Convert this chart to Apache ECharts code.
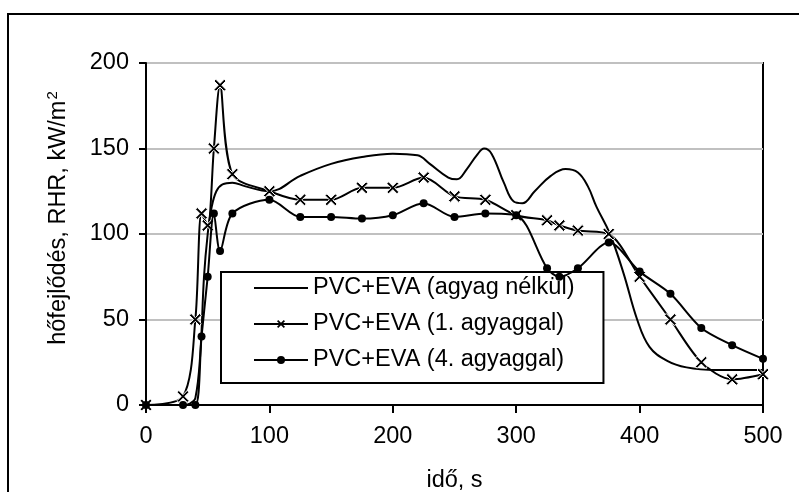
<!DOCTYPE html>
<html><head><meta charset="utf-8">
<script src="https://cdn.jsdelivr.net/npm/echarts@6/dist/echarts.min.js"></script>
<style>html,body{margin:0;padding:0;background:#fff}#c{width:799px;height:492px}</style>
</head><body><div id="c"></div>
<script>
// Series 1: PVC+EVA (agyag nélkül) — smooth line, no markers
var t1   = [0, 30, 36, 40, 44, 47, 50, 53, 57, 62, 70, 80, 100, 125, 150, 175, 200, 220, 230, 245, 252, 260, 268, 274, 280, 290, 298, 305, 315, 328, 340, 350, 358, 365, 376, 387, 398, 408, 422, 438, 462, 500];
var rhr1 = [0, 0, 1, 4, 30, 75, 100, 115, 125, 129, 130, 128, 125, 134, 141, 145, 147, 146, 141, 133, 132, 138, 146, 150, 147, 130, 119, 118, 125, 134, 138, 136, 128, 116, 100, 77, 50, 34, 26, 22, 20.5, 20.5];
// Series 2: PVC+EVA (1. agyaggal) — crosses
var t2   = [0, 30, 40, 45, 50, 55, 60, 70, 100, 125, 150, 175, 200, 225, 250, 275, 300, 325, 335, 350, 375, 400, 425, 450, 475, 500];
var rhr2 = [0, 5, 50, 112, 105, 150, 187, 135, 125, 120, 120, 127, 127, 133, 122, 120, 111, 108, 105, 102, 100, 75, 50, 25, 15, 18];
// Series 3: PVC+EVA (4. agyaggal) — dots
var t3   = [0, 30, 40, 45, 50, 55, 60, 70, 100, 125, 150, 175, 200, 225, 250, 275, 300, 325, 335, 350, 375, 400, 425, 450, 475, 500];
var rhr3 = [0, 0, 0, 40, 75, 112, 90, 112, 120, 110, 110, 109, 111, 118, 110, 112, 111, 80, 75, 80, 95, 78, 65, 45, 35, 27];
var names = ['PVC+EVA (agyag nélkül)', 'PVC+EVA (1. agyaggal)', 'PVC+EVA (4. agyaggal)'];
var xTicks = [0, 100, 200, 300, 400, 500];
var yTicks = [0, 50, 100, 150, 200];

function pairs(xs, ys){ return xs.map(function(x,i){ return [x, ys[i]]; }); }
var FONT = 'Liberation Sans, Arial, sans-serif';
var FS = 23.5;
var crossPath = 'path://M0,1.5L1.5,0L5,3.5L8.5,0L10,1.5L6.5,5L10,8.5L8.5,10L5,6.5L1.5,10L0,8.5L3.5,5Z';

var chart = echarts.init(document.getElementById('c'), null, {renderer:'canvas'});
chart.setOption({
  animation: false,
  backgroundColor: '#fff',
  graphic: [{
    type: 'rect', silent: true, z: -1,
    shape: {x: 8, y: 14, width: 900, height: 600},
    style: {fill: 'none', stroke: '#000', lineWidth: 2}
  }],
  grid: {left: 146, right: 36, top: 63, bottom: 87, containLabel: false, outerBoundsMode: 'none',
    show: true, borderColor: '#000', borderWidth: 2, backgroundColor: 'transparent'},
  legend: {
    orient: 'vertical', left: 221, top: 272,
    backgroundColor: '#fff', borderColor: '#000', borderWidth: 2, borderRadius: 0,
    padding: [3, 29, 10, 32],
    itemWidth: 54, itemHeight: 10, itemGap: 10,
    textStyle: {fontFamily: FONT, fontSize: FS, color: '#000', lineHeight: 26},
    data: [
      {name: names[0], itemStyle: {color: 'rgba(0,0,0,0)', borderWidth: 0, opacity: 0}},
      {name: names[1], itemStyle: {color: '#000', borderWidth: 0}},
      {name: names[2], itemStyle: {color: '#000', borderWidth: 0}}
    ]
  },
  xAxis: {
    type: 'value', min: 0, max: 500, interval: 100,
    name: 'idő, s', nameLocation: 'middle', nameGap: 64,
    nameTextStyle: {fontFamily: FONT, fontSize: FS, color: '#000'},
    axisLine: {show: true, onZero: false, lineStyle: {color: '#000', width: 2}},
    axisTick: {show: true, length: 8, lineStyle: {color: '#000', width: 2}},
    axisLabel: {margin: 20, fontFamily: FONT, fontSize: FS, color: '#000',
      formatter: function(v){ return xTicks.indexOf(v) >= 0 ? String(v) : ''; }},
    splitLine: {show: false}
  },
  yAxis: {
    type: 'value', min: 0, max: 200, interval: 50,
    name: 'hőfejlődés, RHR, kW/m{sup|2}', nameLocation: 'middle', nameGap: 74, nameRotate: 90,
    nameTextStyle: {fontFamily: FONT, fontSize: FS, color: '#000', padding: [0, 0, 0, 32],
      rich: {sup: {fontFamily: FONT, fontSize: 15, color: '#000', verticalAlign: 'top', padding: [0,0,12,1]}}},
    axisLine: {show: true, onZero: false, lineStyle: {color: '#000', width: 2}},
    axisTick: {show: true, length: 7, lineStyle: {color: '#000', width: 2}},
    axisLabel: {margin: 17, fontFamily: FONT, fontSize: FS, color: '#000',
      formatter: function(v){ return yTicks.indexOf(v) >= 0 ? String(v) : ''; }},
    splitLine: {show: true, lineStyle: {color: '#c0c0c0', width: 2}}
  },
  series: [
    {name: names[0], type: 'line', data: pairs(t1, rhr1), smooth: 0.4, symbol: 'none',
     lineStyle: {color: '#000', width: 2}, itemStyle: {color: '#000'}, z: 3},
    {name: names[1], type: 'line', data: pairs(t2, rhr2), smooth: 0.3, symbol: crossPath, symbolSize: 12,
     lineStyle: {color: '#000', width: 2}, itemStyle: {color: '#000', borderColor: '#fff', borderWidth: 1}, z: 4},
    {name: names[2], type: 'line', data: pairs(t3, rhr3), smooth: 0.3, symbol: 'circle', symbolSize: 8,
     lineStyle: {color: '#000', width: 2}, itemStyle: {color: '#000'}, z: 5}
  ]
});
</script></body></html>
